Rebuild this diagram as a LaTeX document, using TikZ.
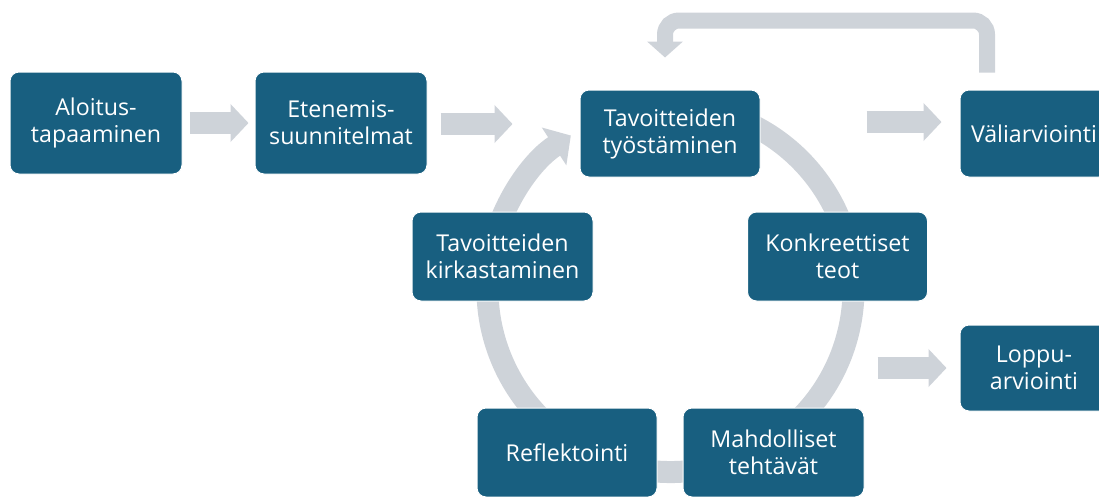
\documentclass[tikz,border=0pt]{standalone}
\usepackage{fontspec}
\setmainfont{Open Sans}
\usetikzlibrary{arrows.meta,backgrounds}
\definecolor{boxblue}{RGB}{24,95,128}
\definecolor{flowgray}{RGB}{206,211,217}
\begin{document}
\begin{tikzpicture}[x=1pt,y=1pt,
  box/.style={draw=white, line width=1pt, fill=boxblue, rounded corners=9pt,
    text=white, align=center, inner sep=0pt, minimum width=180pt, minimum height=88pt,
    font=\fontsize{23.2}{27}\selectfont},
  garrow/.style={draw=flowgray, line width=22pt, -{Triangle[length=18pt,width=37pt]}},
  loopline/.style={draw=flowgray, line width=16pt, rounded corners=14pt, -{Triangle[length=16pt,width=35pt]}},
  ringline/.style={draw=flowgray, line width=22pt, -{Triangle[length=20pt,width=44pt]}}]
\useasboundingbox (0,0) rectangle (1099,-496);
% nodes
\node[box, minimum width=172pt, minimum height=102pt] (alo) at (96,-123) {Aloitus-\\tapaaminen};
\node[box, minimum width=172pt, minimum height=102pt] (ete) at (341,-123) {Etenemis-\\suunnitelmat};
\node[box, minimum width=180pt, minimum height=87pt] (tyo) at (670,-133.5) {Tavoitteiden\\työstäminen};
\node[box, minimum width=148pt, minimum height=87pt] (vali) at (1034,-133.5) {Väliarviointi};
\node[box, minimum width=180pt, minimum height=89pt] (kon) at (837.5,-256.5) {Konkreettiset\\teot};
\node[box, minimum width=181pt, minimum height=89pt] (kir) at (502.5,-256.5) {Tavoitteiden\\kirkastaminen};
\node[box, minimum width=180pt, minimum height=89pt] (ref) at (567,-452.5) {Reflektointi};
\node[box, minimum width=181pt, minimum height=89pt] (mah) at (773.5,-452.5) {Mahdolliset\\tehtävät};
\node[box, minimum width=148pt, minimum height=86pt] (lop) at (1034,-368) {Loppu-\\arviointi};
\coordinate (ringc) at (670.5,-289);
\coordinate (loopS) at ([shift={(-47,17)}]vali.north);
\coordinate (loopM) at ([shift={(-5,69)}]tyo.north);
\coordinate (loopE) at ([shift={(-5,32)}]tyo.north);
\begin{scope}[on background layer]
  \draw[ringline] ([shift={(75:183)}]ringc) arc[start angle=75, end angle=-237, radius=183];
  \draw[garrow] ([xshift=7pt]alo.east) -- ([xshift=-6pt]ete.west);
  \draw[garrow] ([shift={(13,-1)}]ete.east) -- ([shift={(85,-1)}]ete.east);
  \draw[garrow] ([shift={(-93,11.5)}]vali.west) -- ([shift={(-18,11.5)}]vali.west);
  \draw[garrow] ([xshift=-82pt]lop.west) -- ([xshift=-13pt]lop.west);
  \draw[loopline] (loopS) |- (loopM) -- (loopE);
\end{scope}
\end{tikzpicture}
\end{document}
